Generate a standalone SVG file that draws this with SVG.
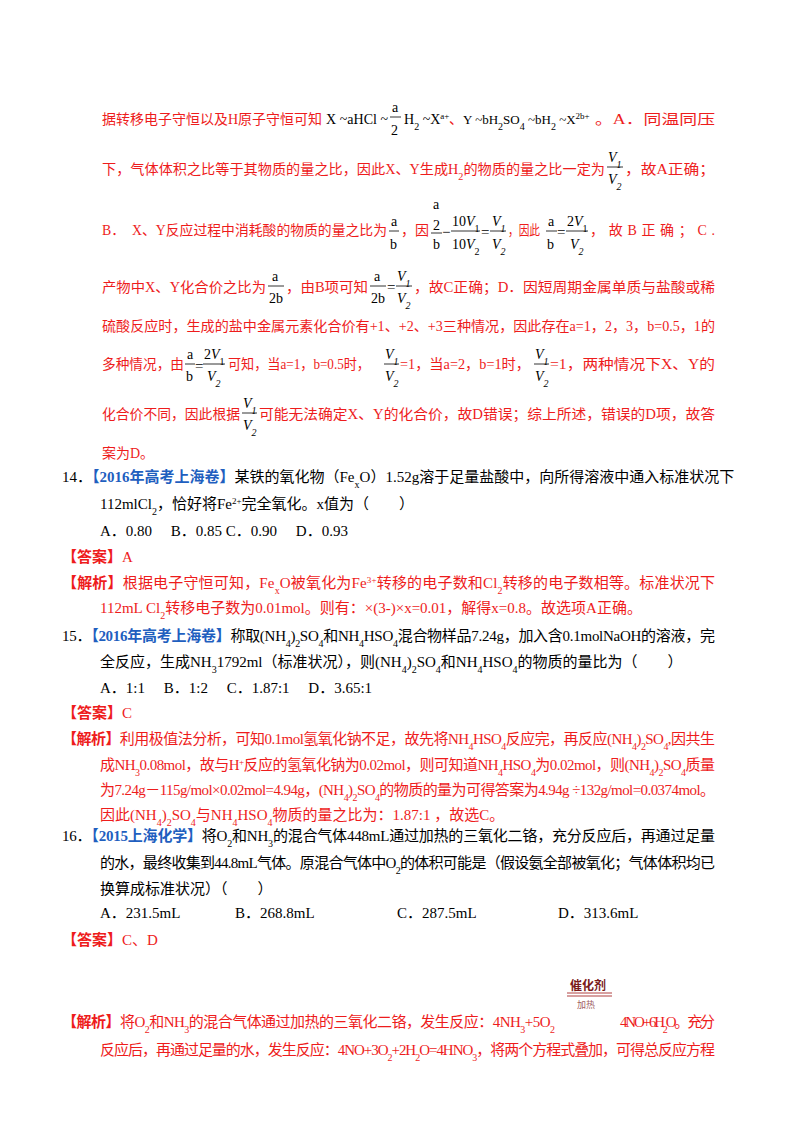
<svg xmlns="http://www.w3.org/2000/svg" width="800" height="1132" viewBox="0 0 800 1132">
<style>
text{font-family:"Liberation Serif","Noto Sans CJK SC",serif;font-size:15px;fill:#000}
.r{fill:#ee1c1c}
.s{font-size:14px}
.bl{fill:#1f5fbf;font-weight:bold}
.rb{fill:#ee1c1c;font-weight:bold}
.sb{font-size:10px;baseline-shift:sub}
.sp{font-size:9px;baseline-shift:super}
.f{font-size:14px}
.i{font-style:italic}
.fl{stroke:#000;stroke-width:0.8}
</style>
<rect width="800" height="1132" fill="#fff"/>
<g id="analysis13">
<text x="102" y="124" class="r s" textLength="220" lengthAdjust="spacingAndGlyphs">据转移电子守恒以及H原子守恒可知</text>
<text x="326" y="124" class="f" textLength="62">X ~aHCl ~</text>
<text x="392" y="112" class="f">a</text><line x1="390" y1="117" x2="401" y2="117" class="fl"/><text x="391" y="135" class="f">2</text>
<text x="404" y="124" class="f">H<tspan class="sb">2</tspan> ~X<tspan class="sp">a+</tspan></text>
<text x="449" y="124" class="r s">、</text>
<text x="463" y="124" style="font-size:13px">Y ~bH<tspan class="sb">2</tspan>SO<tspan class="sb">4</tspan> ~bH<tspan class="sb">2</tspan> ~X<tspan class="sp">2b+</tspan></text>
<text x="595" y="124" class="r s" textLength="120" lengthAdjust="spacingAndGlyphs">。A．同温同压</text>
<text x="102" y="174" class="r s" textLength="503" lengthAdjust="spacingAndGlyphs">下，气体体积之比等于其物质的量之比，因此X、Y生成H<tspan class="sb">2</tspan>的物质的量之比一定为</text>
<text x="608" y="162" class="f i">V<tspan class="sb">1</tspan></text><line x1="607" y1="167" x2="623" y2="167" class="fl"/><text x="608" y="184" class="f i">V<tspan class="sb">2</tspan></text>
<text x="625" y="174" class="r s" textLength="90" lengthAdjust="spacingAndGlyphs">，故A正确；</text>
<text x="102" y="235" class="r s" textLength="285" lengthAdjust="spacingAndGlyphs">B．　X、Y反应过程中消耗酸的物质的量之比为</text>
<text x="391" y="226" class="f">a</text><line x1="389" y1="231" x2="399" y2="231" class="fl"/><text x="390" y="249" class="f">b</text>
<text x="401" y="235" class="r s" textLength="28" lengthAdjust="spacingAndGlyphs">，因</text>
<text x="433" y="209" class="f">a</text><text x="433" y="230" class="f">2</text><line x1="431" y1="233" x2="442" y2="233" class="fl"/><text x="433" y="249" class="f">b</text>
<text x="442" y="237">−</text>
<text x="452" y="226" class="f">10<tspan class="i">V</tspan><tspan class="sb">1</tspan></text><line x1="451" y1="231" x2="480" y2="231" class="fl"/><text x="452" y="249" class="f">10<tspan class="i">V</tspan><tspan class="sb">2</tspan></text>
<text x="481" y="237">=</text>
<text x="492" y="226" class="f i">V<tspan class="sb">1</tspan></text><line x1="490" y1="231" x2="506" y2="231" class="fl"/><text x="492" y="249" class="f i">V<tspan class="sb">2</tspan></text>
<text x="508" y="235" class="r s" textLength="32" lengthAdjust="spacingAndGlyphs">，因此</text>
<text x="548" y="226" class="f">a</text><line x1="546" y1="231" x2="557" y2="231" class="fl"/><text x="547" y="249" class="f">b</text>
<text x="557" y="237">=</text>
<text x="567" y="226" class="f">2<tspan class="i">V</tspan><tspan class="sb">1</tspan></text><line x1="566" y1="231" x2="588" y2="231" class="fl"/><text x="570" y="249" class="f i">V<tspan class="sb">2</tspan></text>
<text x="590" y="235" class="r s" textLength="125" lengthAdjust="spacing">，故B正确；C.</text>
<text x="102" y="292" class="r s" textLength="164" lengthAdjust="spacingAndGlyphs">产物中X、Y化合价之比为</text>
<text x="272" y="281" class="f">a</text><line x1="268" y1="286" x2="284" y2="286" class="fl"/><text x="269" y="303" class="f">2b</text>
<text x="286" y="292" class="r s" textLength="82" lengthAdjust="spacingAndGlyphs">，由B项可知</text>
<text x="374" y="281" class="f">a</text><line x1="370" y1="286" x2="386" y2="286" class="fl"/><text x="371" y="303" class="f">2b</text>
<text x="387" y="292">=</text>
<text x="397" y="281" class="f i">V<tspan class="sb">1</tspan></text><line x1="396" y1="286" x2="412" y2="286" class="fl"/><text x="397" y="303" class="f i">V<tspan class="sb">2</tspan></text>
<text x="414" y="292" class="r s" textLength="301" lengthAdjust="spacingAndGlyphs">，故C正确；D．因短周期金属单质与盐酸或稀</text>
<text x="102" y="331" class="r s" textLength="613" lengthAdjust="spacingAndGlyphs">硫酸反应时，生成的盐中金属元素化合价有+1、+2、+3三种情况，因此存在a=1，2，3，b=0.5，1的</text>
<text x="102" y="369" class="r s" textLength="82" lengthAdjust="spacingAndGlyphs">多种情况，由</text>
<text x="187" y="359" class="f">a</text><line x1="185" y1="364" x2="195" y2="364" class="fl"/><text x="186" y="381" class="f">b</text>
<text x="195" y="371">=</text>
<text x="204" y="359" class="f">2<tspan class="i">V</tspan><tspan class="sb">1</tspan></text><line x1="203" y1="364" x2="225" y2="364" class="fl"/><text x="207" y="381" class="f i">V<tspan class="sb">2</tspan></text>
<text x="228" y="369" class="r s" textLength="142" lengthAdjust="spacingAndGlyphs">可知，当a=1，b=0.5时，</text>
<text x="385" y="359" class="f i">V<tspan class="sb">1</tspan></text><line x1="384" y1="364" x2="399" y2="364" class="fl"/><text x="385" y="381" class="f i">V<tspan class="sb">2</tspan></text>
<text x="400" y="369" class="r s" textLength="130" lengthAdjust="spacingAndGlyphs">=1，当a=2，b=1时，</text>
<text x="535" y="359" class="f i">V<tspan class="sb">1</tspan></text><line x1="534" y1="364" x2="549" y2="364" class="fl"/><text x="535" y="381" class="f i">V<tspan class="sb">2</tspan></text>
<text x="550" y="369" class="r s" textLength="165" lengthAdjust="spacingAndGlyphs">=1，两种情况下X、Y的</text>
<text x="102" y="419" class="r s" textLength="138" lengthAdjust="spacingAndGlyphs">化合价不同，因此根据</text>
<text x="243" y="408" class="f i">V<tspan class="sb">1</tspan></text><line x1="242" y1="413" x2="257" y2="413" class="fl"/><text x="243" y="430" class="f i">V<tspan class="sb">2</tspan></text>
<text x="259" y="419" class="r s" textLength="456" lengthAdjust="spacingAndGlyphs">可能无法确定X、Y的化合价，故D错误；综上所述，错误的D项，故答</text>
<text x="102" y="458" class="r s">案为D。</text>
</g>
<g id="q14">
<text x="62" y="482">14．<tspan class="bl">【2016年高考上海卷】</tspan>某铁的氧化物（Fe<tspan class="sb">x</tspan>O）1.52g溶于足量盐酸中，向所得溶液中通入标准状况下</text>
<text x="100" y="509">112mlCl<tspan class="sb">2</tspan>，恰好将Fe<tspan class="sp">2+</tspan>完全氧化。x值为（　　）</text>
<text x="100" y="536">A．0.80　 B．0.85 C．0.90　 D．0.93</text>
<text x="62" y="562" class="rb">【答案】<tspan font-weight="normal">A</tspan></text>
<text x="62" y="588" class="r" textLength="653"><tspan font-weight="bold">【解析】</tspan>根据电子守恒可知，Fe<tspan class="sb">x</tspan>O被氧化为Fe<tspan class="sp">3+</tspan>转移的电子数和Cl<tspan class="sb">2</tspan>转移的电子数相等。标准状况下</text>
<text x="100" y="613" class="r">112mL Cl<tspan class="sb">2</tspan>转移电子数为0.01mol。则有：×(3-)×x=0.01，解得x=0.8。故选项A正确。</text>
</g>
<g id="q15">
<text x="62" y="641" textLength="653">15．<tspan class="bl">【2016年高考上海卷】</tspan>称取(NH<tspan class="sb">4</tspan>)<tspan class="sb">2</tspan>SO<tspan class="sb">4</tspan>和NH<tspan class="sb">4</tspan>HSO<tspan class="sb">4</tspan>混合物样品7.24g，加入含0.1molNaOH的溶液，完</text>
<text x="100" y="667">全反应，生成NH<tspan class="sb">3</tspan>1792ml（标准状况），则(NH<tspan class="sb">4</tspan>)<tspan class="sb">2</tspan>SO<tspan class="sb">4</tspan>和NH<tspan class="sb">4</tspan>HSO<tspan class="sb">4</tspan>的物质的量比为（　　）</text>
<text x="100" y="693">A．1:1　 B．1:2　 C．1.87:1　 D．3.65:1</text>
<text x="62" y="718" class="rb">【答案】<tspan font-weight="normal">C</tspan></text>
<text x="62" y="744" class="r" textLength="653"><tspan font-weight="bold">【解析】</tspan>利用极值法分析，可知0.1mol氢氧化钠不足，故先将NH<tspan class="sb">4</tspan>HSO<tspan class="sb">4</tspan>反应完，再反应(NH<tspan class="sb">4</tspan>)<tspan class="sb">2</tspan>SO<tspan class="sb">4</tspan>,因共生</text>
<text x="100" y="770" class="r" textLength="615">成NH<tspan class="sb">3</tspan>0.08mol，故与H<tspan class="sp">+</tspan>反应的氢氧化钠为0.02mol，则可知道NH<tspan class="sb">4</tspan>HSO<tspan class="sb">4</tspan>为0.02mol，则(NH<tspan class="sb">4</tspan>)<tspan class="sb">2</tspan>SO<tspan class="sb">4</tspan>质量</text>
<text x="100" y="795" class="r" textLength="615">为7.24g－115g/mol×0.02mol=4.94g，(NH<tspan class="sb">4</tspan>)<tspan class="sb">2</tspan>SO<tspan class="sb">4</tspan>的物质的量为可得答案为4.94g ÷132g/mol=0.0374mol。</text>
<text x="100" y="820" class="r">因此(NH<tspan class="sb">4</tspan>)<tspan class="sb">2</tspan>SO<tspan class="sb">4</tspan>与NH<tspan class="sb">4</tspan>HSO<tspan class="sb">4</tspan>物质的量之比为：1.87:1 ，故选C。</text>
</g>
<g id="q16">
<text x="62" y="841" textLength="653">16．<tspan class="bl">【2015上海化学】</tspan>将O<tspan class="sb">2</tspan>和NH<tspan class="sb">3</tspan>的混合气体448mL通过加热的三氧化二铬，充分反应后，再通过足量</text>
<text x="100" y="868" textLength="615">的水，最终收集到44.8mL气体。原混合气体中O<tspan class="sb">2</tspan>的体积可能是（假设氨全部被氧化；气体体积均已</text>
<text x="100" y="894">换算成标准状况）（　　）</text>
<text x="100" y="918">A．231.5mL</text>
<text x="235" y="918">B．268.8mL</text>
<text x="397" y="918">C．287.5mL</text>
<text x="558" y="918">D．313.6mL</text>
<text x="62" y="945" class="rb">【答案】<tspan font-weight="normal">C、D</tspan></text>
<text x="62" y="1027" class="r" textLength="493"><tspan font-weight="bold">【解析】</tspan>将O<tspan class="sb">2</tspan>和NH<tspan class="sb">3</tspan>的混合气体通过加热的三氧化二铬，发生反应：4NH<tspan class="sb">3</tspan>+5O<tspan class="sb">2</tspan></text>
<text x="570" y="990" style="font-size:12px;font-weight:bold;fill:#7a1a1a">催化剂</text>
<line x1="567" y1="993" x2="612" y2="993" stroke="#b04040" stroke-width="1"/>
<line x1="567" y1="996" x2="612" y2="996" stroke="#b04040" stroke-width="1"/>
<text x="577" y="1008" style="font-size:9px;fill:#a06060">加热</text>
<text x="620" y="1027" class="r" textLength="95">4NO+6H<tspan class="sb">2</tspan>O。充分</text>
<text x="100" y="1055" class="r" textLength="615">反应后，再通过足量的水，发生反应：4NO+3O<tspan class="sb">2</tspan>+2H<tspan class="sb">2</tspan>O=4HNO<tspan class="sb">3</tspan>，将两个方程式叠加，可得总反应方程</text>
</g>
</svg>
